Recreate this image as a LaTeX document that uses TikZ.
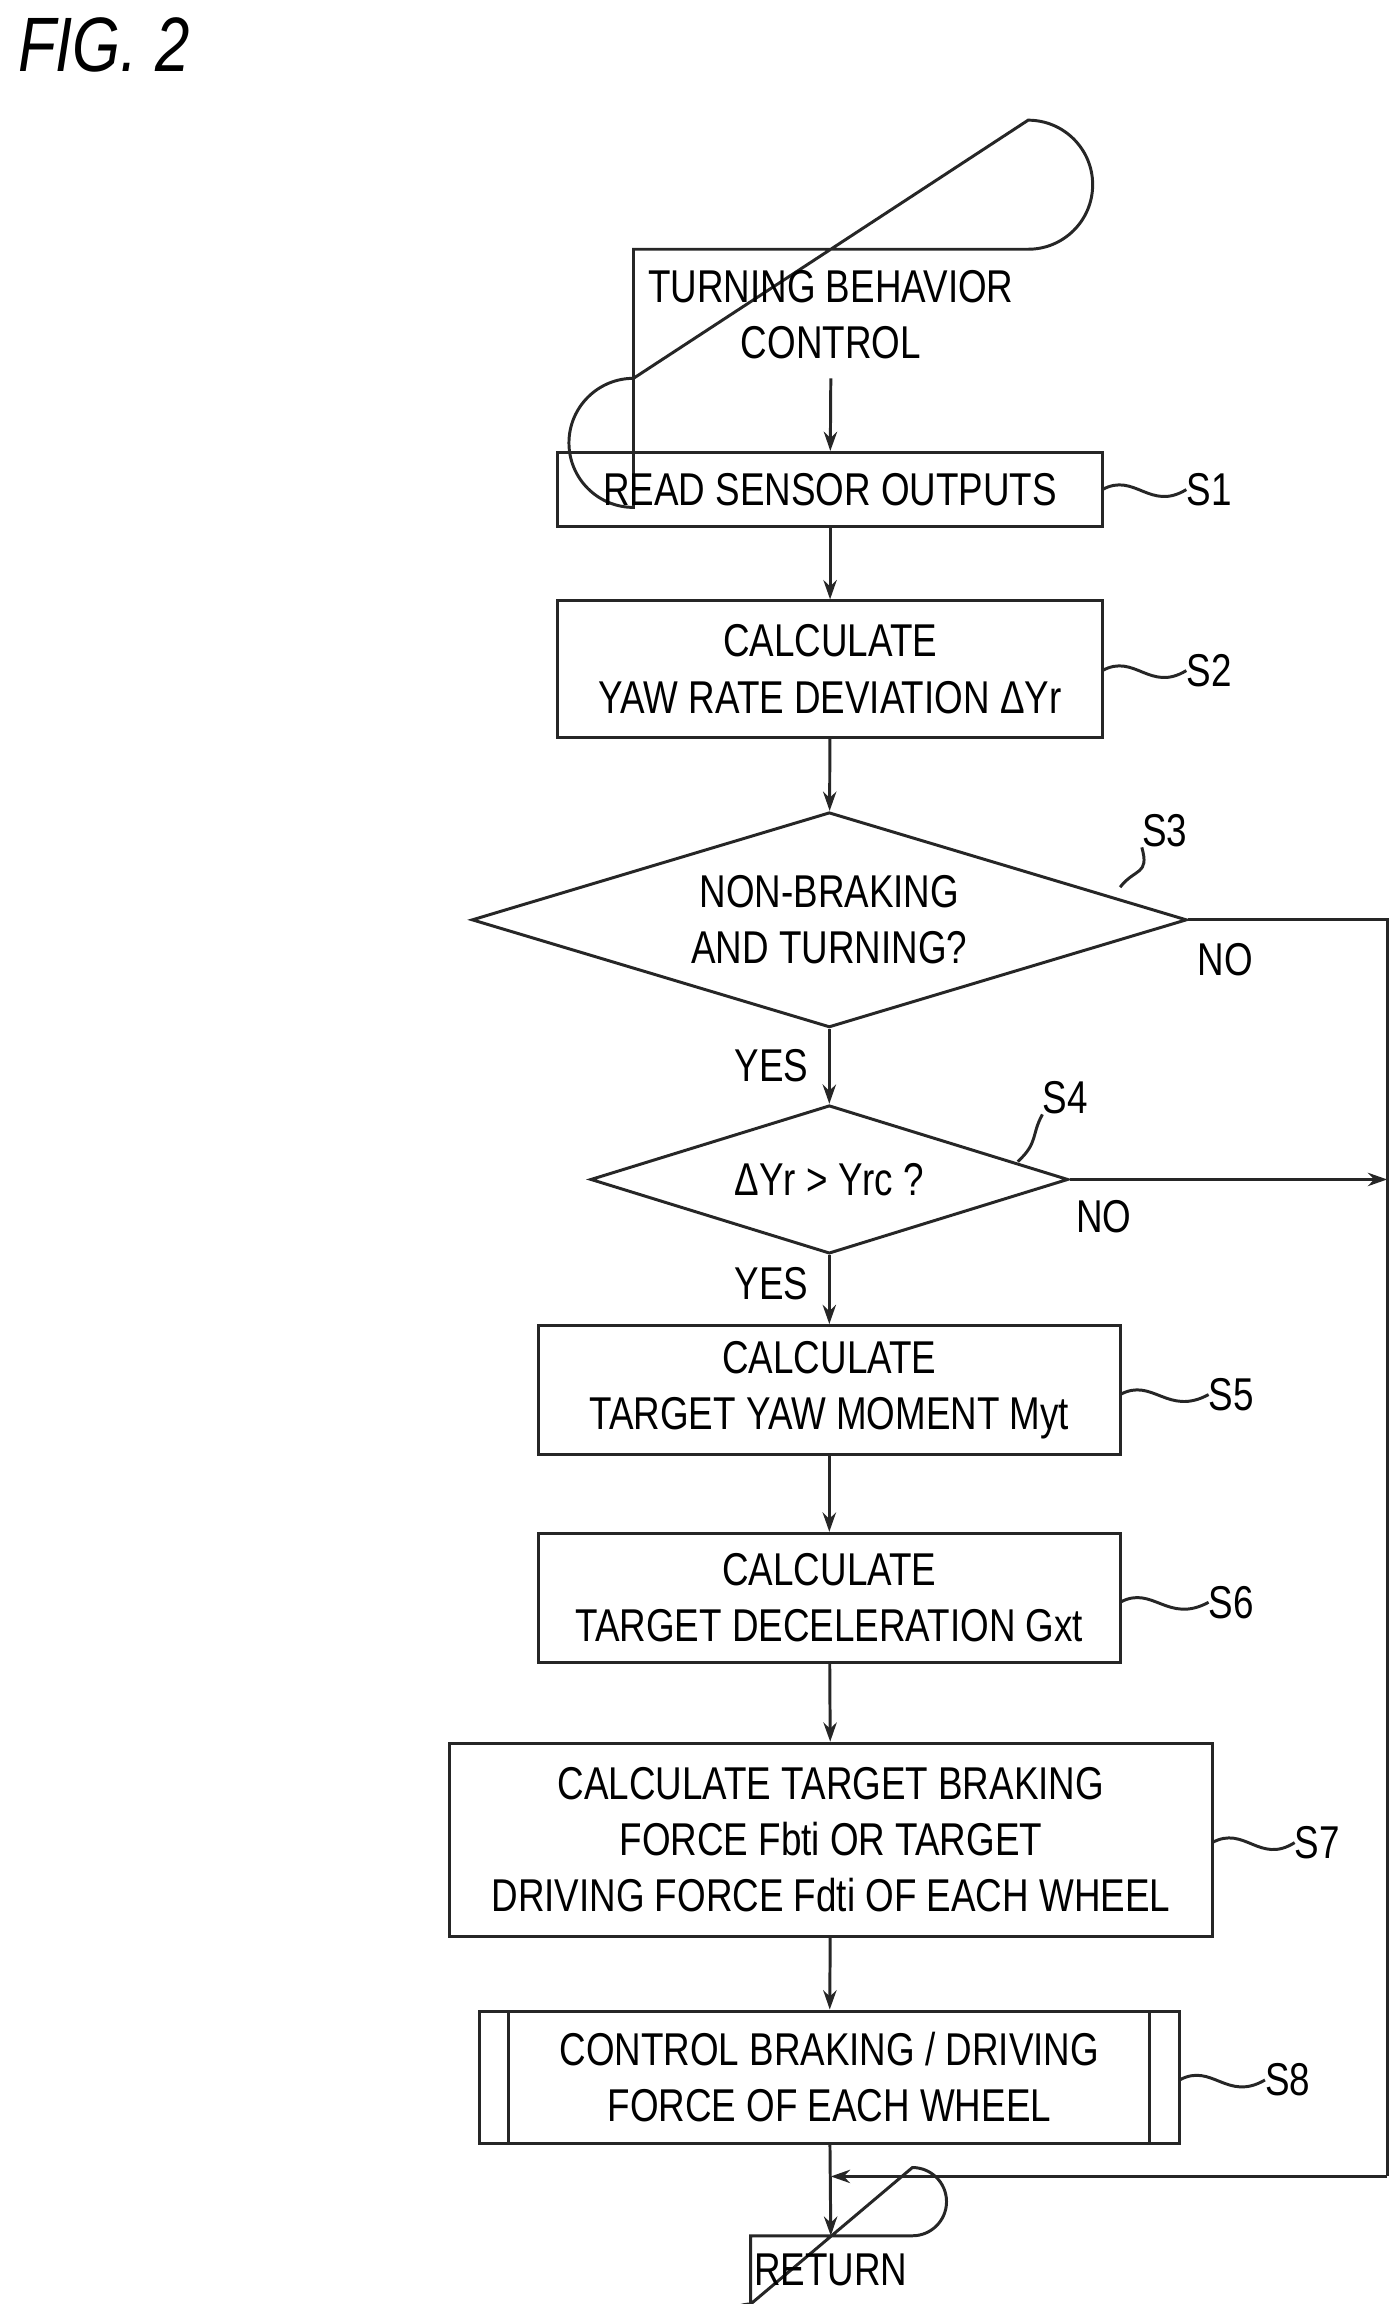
\documentclass[tikz,border=0pt]{standalone}
\usepackage{fontspec}
\setmainfont{Liberation Sans}[FakeStretch=0.8]
\usetikzlibrary{shapes.geometric,arrows.meta}
\begin{document}
\begin{tikzpicture}[x=1pt,y=-1pt,
  every node/.style={font=\fontsize{31}{38}\selectfont, align=center, inner sep=0pt},
  ln/.style={line width=2pt, draw=black!85},
  arr/.style={ln,-{Stealth[length=13pt,width=9pt]}},
  lab/.style={font=\fontsize{31}{38}\selectfont}]
\useasboundingbox (0,0) rectangle (943,1553);
\node[anchor=north west, font=\fontsize{52}{60}\selectfont\itshape] (fig) at (12,12) {FIG. 2};
\draw[ln] (427,168) -- (693,168) arc(90:-90:43.5) -- (427,255) arc(270:90:43.5) -- cycle;
\node (start) at (560,212) {TURNING BEHAVIOR\\CONTROL};
\coordinate (startb) at (560,255);
\node[ln, rectangle, minimum width=367pt, minimum height=50pt] (s1) at (559.5,330) {READ SENSOR OUTPUTS};
\node[ln, rectangle, minimum width=367pt, minimum height=92pt] (s2) at (559.5,451) {CALCULATE\\YAW RATE DEVIATION ΔYr};
\node[ln, diamond, aspect=3.32, minimum width=482pt, minimum height=145pt] (s3) at (559,620) {NON-BRAKING\\AND TURNING?};
\node[ln, diamond, aspect=3.22, minimum width=322pt, minimum height=100pt] (s4) at (559,795) {ΔYr > Yrc ?};
\node[ln, rectangle, minimum width=392pt, minimum height=87pt] (s5) at (559,937) {CALCULATE\\TARGET YAW MOMENT Myt};
\node[ln, rectangle, minimum width=392pt, minimum height=87pt] (s6) at (559,1077) {CALCULATE\\TARGET DECELERATION Gxt};
\node[ln, rectangle, minimum width=514pt, minimum height=130pt] (s7) at (560,1240) {CALCULATE TARGET BRAKING\\FORCE Fbti OR TARGET\\DRIVING FORCE Fdti OF EACH WHEEL};
\node[ln, rectangle, minimum width=472pt, minimum height=89pt] (s8) at (559,1400) {CONTROL BRAKING / DRIVING\\FORCE OF EACH WHEEL};
\draw[ln] (343,1356) -- (343,1445) (775,1356) -- (775,1445);
\draw[ln] (506,1507) -- (615,1507) arc(90:-90:23) -- (506,1553) arc(270:90:23) -- cycle;
\node (ret) at (560,1530) {RETURN};
\coordinate (retT) at (560,1507);
\draw[arr] (startb) -- (s1);
\draw[arr] (s1) -- (s2);
\draw[arr] (s2) -- (s3);
\draw[arr] (s3) -- (s4);
\draw[arr] (s4) -- (s5);
\draw[arr] (s5) -- (s6);
\draw[arr] (s6) -- (s7);
\draw[arr] (s7) -- (s8);
\draw[arr] (s8) -- (retT);
\coordinate (c1) at (935,620);
\coordinate (c2) at (935,1467);
\coordinate (c3) at (560,1467);
\coordinate (c4) at (935,795);
\draw[ln] (s3.east) -- (c1) -- (c2);
\draw[arr] (c2) -- (c3);
\draw[arr] (s4.east) -- (c4);
\node[lab] (yes1) at (520,718) {YES};
\node[lab] (yes2) at (520,865) {YES};
\node[lab] (no1) at (826,647) {NO};
\node[lab] (no2) at (744,820) {NO};
\node[lab] (l1) at (815,330) {S1};
\node[lab] (l2) at (815,452) {S2};
\node[lab] (l3) at (785,560) {S3};
\node[lab] (l4) at (718,740) {S4};
\node[lab] (l5) at (830,940) {S5};
\node[lab] (l6) at (830,1080) {S6};
\node[lab] (l7) at (888,1242) {S7};
\node[lab] (l8) at (868,1402) {S8};
\draw[ln] (743,330) .. controls (765,318) and (775,345) .. (l1.west);
\draw[ln] (743,452) .. controls (765,440) and (775,467) .. (l2.west);
\draw[ln] (755,940) .. controls (777,928) and (787,955) .. (l5.west);
\draw[ln] (755,1080) .. controls (777,1068) and (787,1095) .. (l6.west);
\draw[ln] (817,1242) .. controls (839,1230) and (849,1257) .. (l7.west);
\draw[ln] (795,1402) .. controls (817,1390) and (827,1417) .. (l8.west);
\draw[ln] (755,598) .. controls (765,585) and (775,590) .. (l3.south west);
\draw[ln] (686,783) .. controls (700,770) and (695,765) .. (l4.south west);
\end{tikzpicture}
\end{document}
